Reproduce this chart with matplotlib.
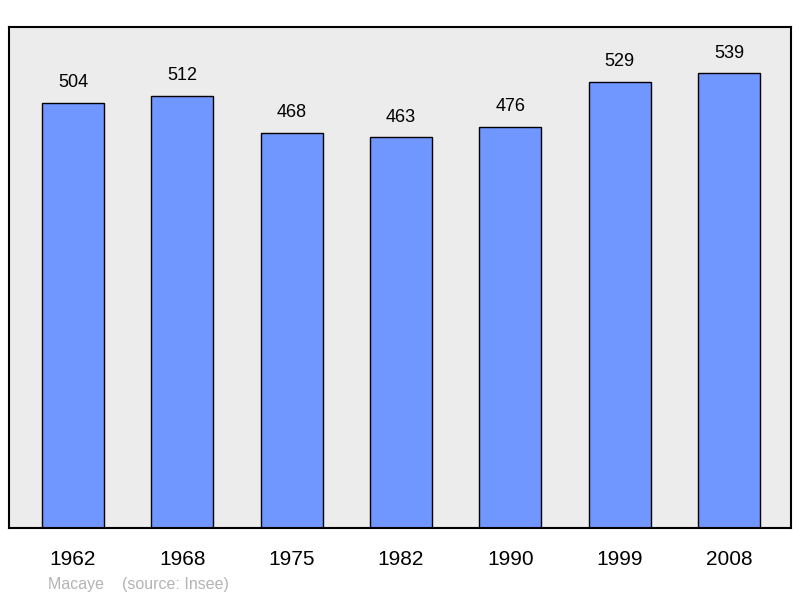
import matplotlib
matplotlib.use("Agg")
import matplotlib.pyplot as plt

years = ["1962", "1968", "1975", "1982", "1990", "1999", "2008"]
population = [504, 512, 468, 463, 476, 529, 539]

plt.rcParams["font.family"] = ["Liberation Sans", "DejaVu Sans"]

fig = plt.figure(figsize=(8, 5.98), dpi=100)
ax = fig.add_axes([9 / 800, 1 - 528 / 598, 782 / 800, 501 / 598])
ax.set_facecolor("#ececec")

xs = list(range(len(years)))
ax.bar(xs, population, width=0.567, color="#7096ff", edgecolor="black", linewidth=1)
for x, v in zip(xs, population):
    ax.text(x, v + 14, str(v), ha="center", va="bottom", fontsize=13)

ax.set_xlim(-0.585, 6.567)
ax.set_ylim(0, 594)
ax.set_yticks([])
ax.set_xticks(xs)
ax.set_xticklabels(years, fontsize=15)
ax.tick_params(axis="x", length=0, pad=16)
for s in ax.spines.values():
    s.set_linewidth(1.5)

fig.text(48 / 800, 1 - 584 / 598, "Macaye    (source: Insee)", color="#b4b4b4",
         fontsize=11.5, va="center")

fig.savefig("out.png", dpi=100)
